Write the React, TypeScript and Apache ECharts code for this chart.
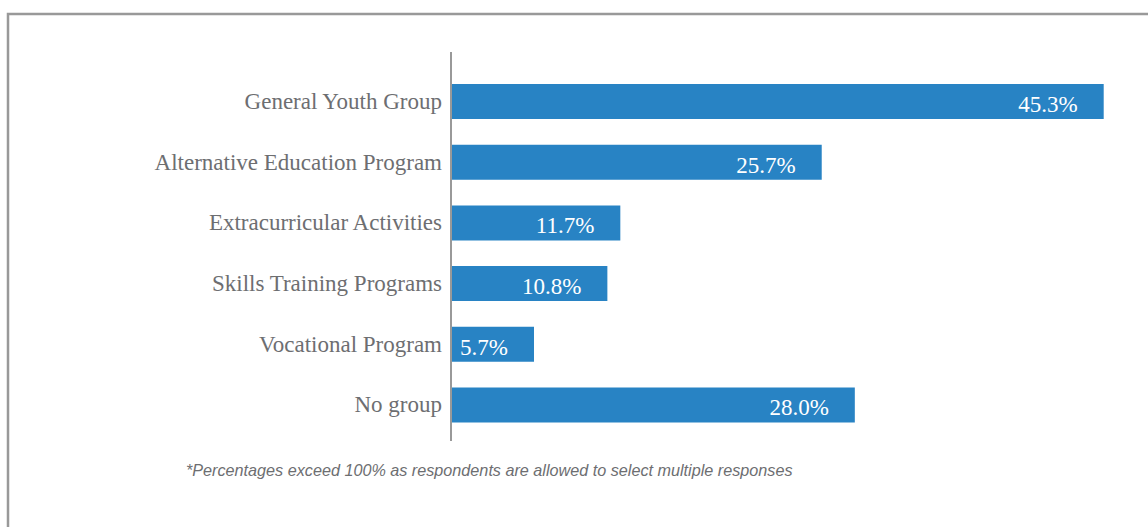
import React, { useEffect, useRef } from "react";
import * as echarts from "echarts";

const categories = [
  "General Youth Group",
  "Alternative Education Program",
  "Extracurricular Activities",
  "Skills Training Programs",
  "Vocational Program",
  "No group",
];
const values = [45.3, 25.7, 11.7, 10.8, 5.7, 28.0];
const footnote =
  "*Percentages exceed 100% as respondents are allowed to select multiple responses";

export default function App() {
  const ref = useRef<HTMLDivElement>(null);
  useEffect(() => {
    if (!ref.current) return;
    const chart = echarts.init(ref.current, undefined, { renderer: "svg" });
    chart.setOption({
      animation: false,
      backgroundColor: "#ffffff",
      grid: { left: 452, right: 44.3, top: 71.2, bottom: 527 - 435.3, containLabel: false },
      xAxis: { type: "value", min: 0, max: 45.3, show: false },
      yAxis: {
        type: "category",
        data: categories,
        inverse: true,
        axisLine: { show: false },
        axisTick: { show: false },
        splitLine: { show: false },
        axisLabel: {
          margin: 10,
          color: "#6d6e71",
          fontFamily: "Liberation Serif",
          fontSize: 23,
          padding: [5, 0, 0, 0],
        },
      },
      series: [
        {
          type: "bar",
          data: values,
          barWidth: 35,
          itemStyle: { color: "#2883c4" },
          label: {
            show: true,
            position: "insideRight",
            distance: 26,
            offset: [0, 3],
            color: "#ffffff",
            fontFamily: "Liberation Serif",
            fontSize: 23,
            formatter: (p: any) => p.value.toFixed(1) + "%",
          },
        },
      ],
      graphic: [
        {
          type: "polyline",
          shape: { points: [[8, 540], [8, 14], [1160, 14]] },
          style: { stroke: "#999999", lineWidth: 2.5, fill: "none" },
          silent: true,
        },
        {
          type: "line",
          shape: { x1: 451, y1: 52, x2: 451, y2: 441 },
          style: { stroke: "#999999", lineWidth: 2 },
          silent: true,
        },
        {
          type: "text",
          x: 186,
          y: 470,
          style: {
            text: footnote,
            fill: "#6d6e71",
            fontFamily: "Liberation Sans",
            fontStyle: "italic",
            fontSize: 16.2,
            textVerticalAlign: "middle",
          },
          silent: true,
        },
      ],
    });
    return () => chart.dispose();
  }, []);
  return (
    <div
      ref={ref}
      style={{ position: "absolute", left: 0, top: 0, width: 1148, height: 527 }}
    />
  );
}
